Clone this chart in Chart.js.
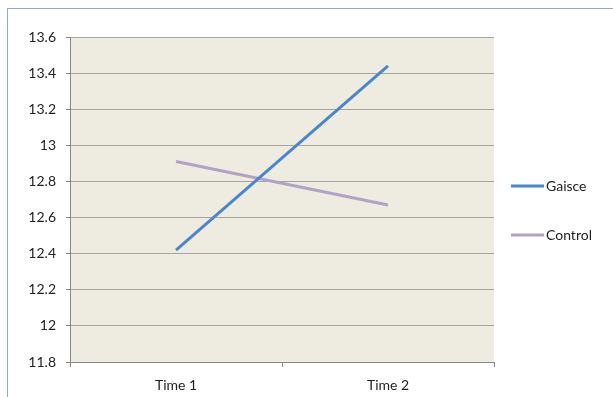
<!DOCTYPE html>
<html>
<head>
<meta charset="utf-8">
<script src="https://cdn.jsdelivr.net/npm/chart.js@4/dist/chart.umd.min.js"></script>
<style>
  html, body { margin: 0; padding: 0; background: #fff; }
  #wrap { position: relative; width: 613px; height: 397px; }
  #moldura { position: absolute; left: 7px; top: 8px; right: 0; bottom: 0;
             border-left: 1px solid #8eaad2; border-top: 1px solid #8eaad2; pointer-events: none; }
</style>
</head>
<body>
<div id="wrap">
  <canvas id="grafico" width="613" height="397"></canvas>
  <div id="moldura"></div>
</div>
<script>
// dados
const categorias = ['Time 1', 'Time 2'];
const gaisce = [12.42, 13.44];
const controle = [12.91, 12.67];
const nomesSeries = ['Gaisce', 'Control'];
const yMin = 11.8, yMax = 13.6, yPasso = 0.2;

// fundo bege da área de plotagem
const fundoPlot = {
    id: 'fundoPlot',
    beforeDraw(chart) {
        const { ctx, chartArea: a } = chart;
        ctx.save();
        ctx.fillStyle = '#eeece1';
        ctx.fillRect(a.left, a.top, a.right - a.left, a.bottom - a.top);
        ctx.restore();
    }
};

// legenda desenhada à mão, estilo Excel
const legendaManual = {
    id: 'legendaManual',
    afterDraw(chart) {
        const ctx = chart.ctx;
        const ys = [186, 235];
        ctx.save();
        chart.data.datasets.forEach((ds, i) => {
            ctx.strokeStyle = ds.borderColor;
            ctx.lineWidth = 3;
            ctx.beginPath();
            ctx.moveTo(511, ys[i]);
            ctx.lineTo(544, ys[i]);
            ctx.stroke();
            ctx.fillStyle = '#222';
            ctx.font = '14px Lato';
            ctx.textBaseline = 'middle';
            ctx.fillText(ds.label, 546, ys[i]);
        });
        ctx.restore();
    }
};

const ctx = document.getElementById('grafico').getContext('2d');
new Chart(ctx, {
    type: 'line',
    data: {
        labels: categorias,
        datasets: [{
            label: nomesSeries[0],
            data: gaisce,
            borderColor: '#4a86d0',
            borderWidth: 3,
            pointRadius: 0,
            tension: 0
        }, {
            label: nomesSeries[1],
            data: controle,
            borderColor: '#b3a2c8',
            borderWidth: 3,
            pointRadius: 0,
            tension: 0
        }]
    },
    options: {
        responsive: false,
        animation: false,
        layout: { padding: { left: 0, right: 119, top: 37, bottom: 0 } },
        plugins: {
            legend: { display: false },
            tooltip: { enabled: false }
        },
        scales: {
            x: {
                offset: true,
                afterFit: s => { s.height = 35; },
                grid: {
                    offset: true,
                    drawOnChartArea: false,
                    drawTicks: true,
                    tickLength: 5,
                    color: '#888'
                },
                border: { color: '#888' },
                ticks: {
                    color: '#222',
                    padding: 10,
                    font: { family: 'Lato', size: 14 }
                }
            },
            y: {
                min: yMin,
                max: yMax,
                afterFit: s => { s.width = 70; },
                grid: {
                    color: '#a5a5a0',
                    tickLength: 4,
                    tickColor: '#888'
                },
                border: { color: '#888' },
                ticks: {
                    stepSize: yPasso,
                    color: '#222',
                    padding: 10,
                    font: { family: 'Lato', size: 14 },
                    callback: v => String(Number(v.toFixed(1)))
                }
            }
        }
    },
    plugins: [fundoPlot, legendaManual]
});
</script>
</body>
</html>
